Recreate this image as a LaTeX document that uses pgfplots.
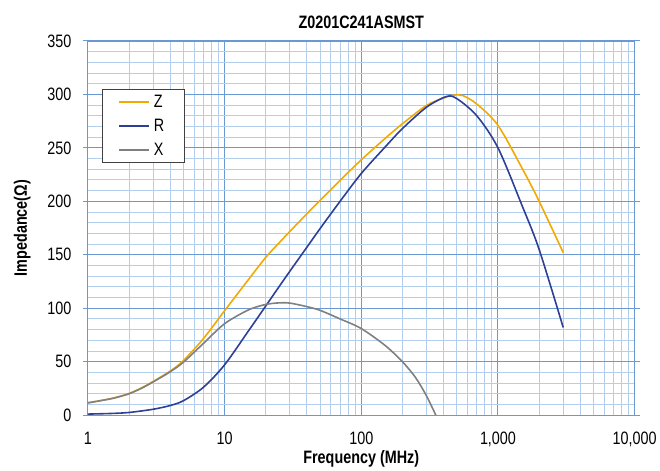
\documentclass[border=0pt]{standalone}
\usepackage{fontspec}
\setmainfont{Liberation Sans}[FakeStretch=0.8]
\usepackage{pgfplots}
\pgfplotsset{compat=1.18}

\definecolor{majgrid}{RGB}{105,152,210}
\definecolor{mingrid}{RGB}{178,207,238}
\definecolor{zcol}{RGB}{242,170,0}
\definecolor{rcol}{RGB}{46,64,150}
\definecolor{xcol}{RGB}{128,128,128}

\begin{document}
\begin{tikzpicture}
\begin{axis}[
    scale only axis,
    width=548pt, height=375pt,
    xmode=log, log basis x=10,
    xmin=1, xmax=10000,
    ymin=0, ymax=350,
    xtick={1,10,100,1000,10000},
    xticklabels={1,10,100,{1,000},{10,000}},
    minor xtick={2,3,4,5,6,7,8,9,20,30,40,50,60,70,80,90,
        200,300,400,500,600,700,800,900,2000,3000,4000,5000,6000,7000,8000,9000},
    ytick={0,50,...,350},
    minor y tick num=4,
    grid=both,
    major grid style={draw=majgrid, line width=1pt},
    minor grid style={draw=mingrid, line width=0.9pt},
    axis line style={draw=majgrid, line width=1.2pt},
    tick align=outside,
    major tick length=5pt,
    minor tick length=0pt,
    x tick style={draw=none},
    y tick style={draw=majgrid, line width=1pt},
    tick label style={font=\fontsize{18}{20}\selectfont},
    /pgf/number format/assume math mode=true,
    xticklabel style={yshift=-8pt},
    yticklabel style={xshift=-8pt},
    title={\bfseries Z0201C241ASMST},
    title style={font=\fontsize{18}{20}\selectfont, yshift=3pt},
    xlabel={\bfseries Frequency (MHz)},
    ylabel={\bfseries Impedance(Ω)},
    label style={font=\fontsize{18}{20}\selectfont},
    xlabel style={yshift=3pt},
    ylabel style={yshift=10pt},
    legend cell align=left,
    legend style={at={(0.026,0.872)}, anchor=north west, draw=black!75,
        line width=0.8pt, font=\fontsize{18}{20}\selectfont,
        inner xsep=16pt, inner ysep=4pt, row sep=6pt,
        nodes={inner ysep=2pt, inner xsep=4pt}},
    legend image code/.code={\draw[#1, line width=1.5pt] (0pt,0pt) -- (30pt,0pt);},
]
\coordinate (bl) at (rel axis cs:0,0);
\coordinate (tr) at (rel axis cs:1,1);

\addplot[zcol, line width=1.6pt, smooth] coordinates {
(1,11.5) (1.5,15.7) (2,20.2) (2.5,25.8) (3,31.5) (4,41.2) (5,51) (7,71.5) (10,97.6) (15,127)
(20,147.5) (25,161) (30,171.7) (40,188.3) (50,200.9) (70,219.6) (100,238.8) (150,259)
(200,272.5) (300,289.7) (400,296.5) (470,299.2) (550,299) (700,291) (1000,271)
(1500,231) (2000,200) (3000,152)
};
\addlegendentry{Z}

\addplot[rcol, line width=1.6pt, smooth] coordinates {
(1,1) (1.5,1.6) (2,2.5) (3,5.5) (4,9) (5,13.5) (7,26) (10,47) (15,79)
(20,102) (25,120) (30,134.5) (40,157) (50,174.5) (70,200) (100,226) (150,251)
(200,268) (300,288) (420,298) (500,296) (700,280) (1000,250) (1500,196)
(2000,155) (3000,82)
};
\addlegendentry{R}

\addplot[xcol, line width=1.6pt, smooth] coordinates {
(1,11.5) (1.5,15.5) (2,20) (2.5,25.5) (3,31) (4,40.5) (5,49.5) (7,67) (10,85.5) (15,98.5)
(20,103.5) (25,105) (30,104.8) (40,101.5) (50,98) (70,90) (100,81) (150,65)
(200,50) (250,35) (300,18) (351,0)
};
\addlegendentry{X}
\end{axis}
\path (bl) ++(-88pt,-54pt) coordinate (BL);
\path (tr) ++(24pt,41pt) coordinate (TR);
\path (BL) rectangle (TR);
\end{tikzpicture}
\end{document}
